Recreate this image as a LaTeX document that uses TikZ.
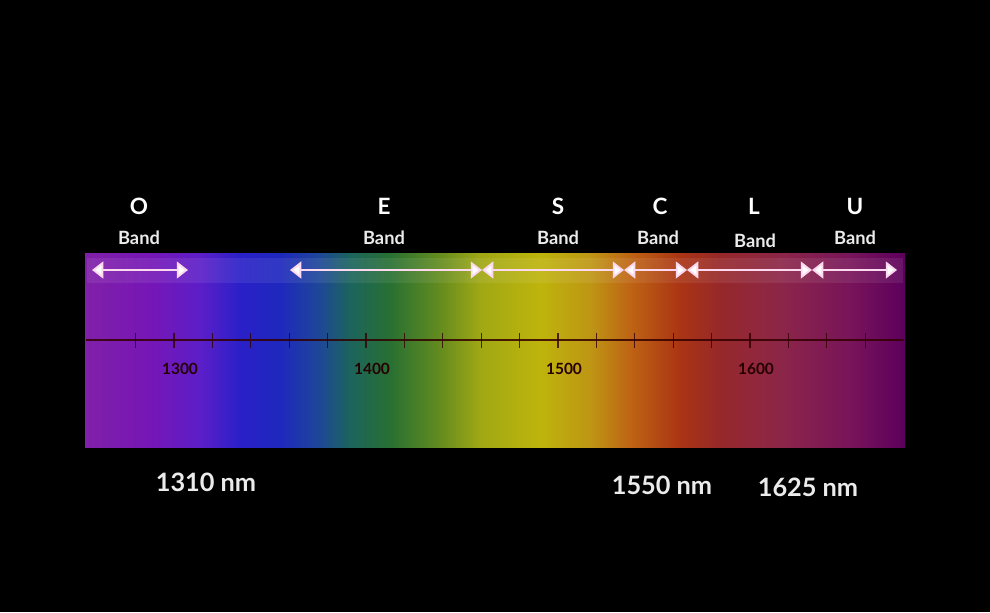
\documentclass[tikz,border=0pt]{standalone}
\usepackage{fontspec}
\setmainfont{Lato}
\usetikzlibrary{arrows.meta}

\definecolor{spA}{RGB}{128,32,168}
\definecolor{spB}{RGB}{118,22,182}
\definecolor{spC}{RGB}{92,30,200}
\definecolor{spD}{RGB}{42,32,200}
\definecolor{spE}{RGB}{30,40,190}
\definecolor{spF}{RGB}{30,72,150}
\definecolor{spG}{RGB}{28,100,92}
\definecolor{spH}{RGB}{40,112,50}
\definecolor{spI}{RGB}{100,140,30}
\definecolor{spJ}{RGB}{160,168,20}
\definecolor{spK}{RGB}{190,180,12}
\definecolor{spL}{RGB}{190,150,20}
\definecolor{spM}{RGB}{190,100,20}
\definecolor{spN}{RGB}{170,52,20}
\definecolor{spO}{RGB}{150,40,42}
\definecolor{spP}{RGB}{140,38,72}
\definecolor{spQ}{RGB}{120,20,90}
\definecolor{spR}{RGB}{92,0,92}
\pgfdeclarehorizontalshading{spectrum}{100bp}{color(0bp)=(spA); color(25bp)=(spA);
  color(28.96bp)=(spB); color(32.01bp)=(spC); color(34.45bp)=(spD);
  color(36.89bp)=(spE); color(39.33bp)=(spF); color(41.16bp)=(spG);
  color(43.6bp)=(spH); color(46.65bp)=(spI); color(49.09bp)=(spJ);
  color(52.74bp)=(spK); color(55.8bp)=(spL); color(58.23bp)=(spM);
  color(61.28bp)=(spN); color(63.72bp)=(spO); color(67.38bp)=(spP);
  color(71.65bp)=(spQ); color(75bp)=(spR); color(100bp)=(spR)}

\begin{document}
\begin{tikzpicture}[x=0.025cm,y=-0.025cm]
  \tikzstyle{BandLetter}=[text=white,font=\bfseries\fontsize{16}{16}\selectfont]
  \tikzstyle{BandWord}=[text=white!92!black,font=\bfseries\fontsize{13}{13}\selectfont]
  \tikzstyle{BandArrow}=[draw=white!85!magenta,line width=1.4pt,
    {Triangle[length=8pt,width=12pt,fill=white]}-{Triangle[length=8pt,width=12pt,fill=white]}]
  \tikzstyle{TickLabel}=[text=black!85!red,font=\bfseries\fontsize{11}{11}\selectfont]
  \tikzstyle{WaveLabel}=[text=white!92!black,font=\bfseries\fontsize{18}{18}\selectfont]

  \fill[black] (0,0) rectangle (990,612);
  \useasboundingbox (0,0) rectangle (990,612);

  % spectrum
  \shade[shading=spectrum] (85,253) rectangle (905,447);
  \fill[white,opacity=0.08] (87,258) rectangle (903,283);

  % axis
  \coordinate (axL) at (86,340);
  \coordinate (axR) at (904,340);
  \draw[black!80!red,line width=1.8pt,opacity=0.85] (axL) -- (axR);
  \foreach \l in {1280,1300,...,1660}{
    \draw[black!80!red,line width=0.8pt,opacity=0.8]
      ({558+(\l-1500)*1.92},333) -- ({558+(\l-1500)*1.92},348);
  }
  \foreach \l in {1300,1400,1500,1600}{
    \node[TickLabel] (t\l) at ({564+(\l-1500)*1.92},369) {\l};
  }

  % band limits
  \coordinate (b0) at (92,270);
  \coordinate (b1) at (188,270);
  \coordinate (b2) at (290,270);
  \coordinate (b3) at (482,270);
  \coordinate (b4) at (624,270);
  \coordinate (b5) at (687,270);
  \coordinate (b6) at (812,270);
  \coordinate (b7) at (897,270);
  \draw[BandArrow] (b0) -- (b1);
  \draw[BandArrow] (b2) -- (b3);
  \draw[BandArrow] (b3) -- (b4);
  \draw[BandArrow] (b4) -- (b5);
  \draw[BandArrow] (b5) -- (b6);
  \draw[BandArrow] (b6) -- (b7);

  % band names
  \node[BandLetter] (o) at (139,206) {O};
  \node[BandWord] (ob) at (139,238) {Band};
  \node[BandLetter] (e) at (384,206) {E};
  \node[BandWord] (eb) at (384,238) {Band};
  \node[BandLetter] (s) at (558,206) {S};
  \node[BandWord] (sb) at (558,238) {Band};
  \node[BandLetter] (c) at (660,206) {C};
  \node[BandWord] (cb) at (658,238) {Band};
  \node[BandLetter] (l) at (754,206) {L};
  \node[BandWord] (lb) at (755,241) {Band};
  \node[BandLetter] (u) at (855,206) {U};
  \node[BandWord] (ub) at (855,238) {Band};

  % wavelengths
  \node[WaveLabel] (w1310) at (206,482) {1310 nm};
  \node[WaveLabel] (w1550) at (662,485) {1550 nm};
  \node[WaveLabel] (w1625) at (808,487) {1625 nm};

\end{tikzpicture}
\end{document}
